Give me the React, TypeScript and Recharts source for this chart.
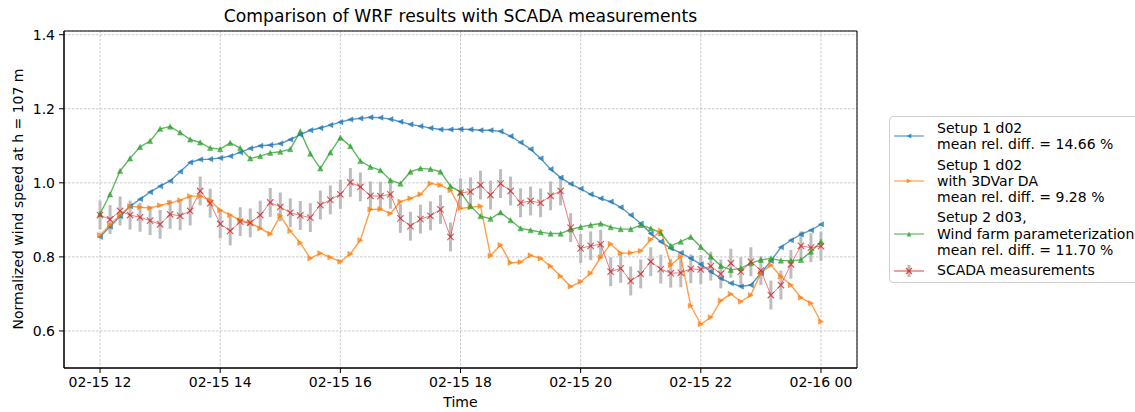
import { LineChart, Line, XAxis, YAxis, CartesianGrid, ErrorBar, ReferenceArea } from 'recharts'

// 10-minute steps from 02-15 12:00 to 02-16 00:00
const SETUP1_D02 = [
  0.854, 0.882, 0.910, 0.937, 0.956, 0.975, 0.991, 1.005, 1.030, 1.055, 1.063, 1.064, 1.067,
  1.072, 1.082, 1.093, 1.100, 1.102, 1.106, 1.117, 1.130, 1.142, 1.148, 1.156, 1.164,
  1.171, 1.174, 1.177, 1.176, 1.172, 1.165, 1.158, 1.153, 1.148, 1.144, 1.144, 1.145,
  1.144, 1.142, 1.142, 1.139, 1.126, 1.109, 1.091, 1.066, 1.037, 1.014, 0.997, 0.984,
  0.969, 0.958, 0.949, 0.934, 0.913, 0.890, 0.863, 0.841, 0.823, 0.811, 0.796, 0.780,
  0.760, 0.742, 0.729, 0.720, 0.724, 0.756, 0.789, 0.826, 0.845, 0.861, 0.872, 0.888,
]
const SETUP1_3DVAR = [
  0.859, 0.886, 0.913, 0.937, 0.934, 0.932, 0.939, 0.946, 0.953, 0.964, 0.964, 0.953, 0.926,
  0.913, 0.899, 0.892, 0.877, 0.862, 0.911, 0.870, 0.838, 0.796, 0.810, 0.799, 0.787,
  0.808, 0.845, 0.928, 0.929, 0.917, 0.949, 0.958, 0.969, 0.998, 0.994, 0.980, 0.931,
  0.934, 0.937, 0.803, 0.832, 0.784, 0.786, 0.804, 0.796, 0.775, 0.748, 0.720, 0.733,
  0.756, 0.799, 0.835, 0.810, 0.811, 0.816, 0.847, 0.871, 0.778, 0.801, 0.668, 0.618,
  0.637, 0.682, 0.700, 0.679, 0.697, 0.756, 0.778, 0.747, 0.724, 0.690, 0.675, 0.625,
]
const SETUP2_D03 = [
  0.916, 0.969, 1.032, 1.066, 1.097, 1.113, 1.146, 1.152, 1.136, 1.117, 1.109, 1.094, 1.091,
  1.108, 1.094, 1.066, 1.072, 1.081, 1.084, 1.091, 1.139, 1.079, 1.039, 1.082, 1.122,
  1.099, 1.059, 1.043, 1.034, 1.007, 0.998, 1.030, 1.039, 1.037, 1.030, 0.991, 0.975,
  0.937, 0.910, 0.903, 0.920, 0.899, 0.877, 0.872, 0.867, 0.863, 0.863, 0.874, 0.881,
  0.886, 0.890, 0.880, 0.875, 0.875, 0.886, 0.877, 0.865, 0.830, 0.841, 0.854, 0.827,
  0.801, 0.776, 0.765, 0.769, 0.783, 0.792, 0.796, 0.790, 0.790, 0.792, 0.814, 0.841,
]
const SCADA = [
  0.913, 0.901, 0.924, 0.913, 0.907, 0.898, 0.888, 0.915, 0.911, 0.924, 0.978, 0.945, 0.889,
  0.870, 0.895, 0.892, 0.913, 0.947, 0.935, 0.919, 0.912, 0.906, 0.940, 0.954, 0.969,
  1.001, 0.989, 0.965, 0.964, 0.969, 0.904, 0.883, 0.902, 0.911, 0.928, 0.854, 0.973,
  0.976, 0.994, 0.967, 0.998, 0.978, 0.946, 0.951, 0.946, 0.965, 0.978, 0.879, 0.823,
  0.830, 0.834, 0.760, 0.769, 0.735, 0.754, 0.787, 0.767, 0.756, 0.757, 0.768, 0.766,
  0.775, 0.754, 0.783, 0.760, 0.787, 0.763, 0.697, 0.724, 0.780, 0.830, 0.825, 0.829,
]
const SCADA_ERR = 0.039

const X_TICKS = [0, 2, 4, 6, 8, 10, 12]
const X_TICK_LABELS = ['02-15 12', '02-15 14', '02-15 16', '02-15 18', '02-15 20', '02-15 22', '02-16 00']
const Y_TICKS = [0.6, 0.8, 1.0, 1.2, 1.4]

const BLUE = '#1f77b4'
const ORANGE = '#ff7f0e'
const GREEN = '#2ca02c'
const RED = '#d62728'
const FONT = '"DejaVu Sans", sans-serif'

const data = SETUP1_D02.map((v, i) => ({
  t: i / 6,
  setup1: v,
  setup1da: SETUP1_3DVAR[i],
  setup2: SETUP2_D03[i],
  scada: SCADA[i],
  err: SCADA_ERR,
}))

function triPath(dir: string, x: number, y: number, s: number) {
  if (dir === 'left') return `M${x - s},${y} L${x + s},${y - s} L${x + s},${y + s} Z`
  if (dir === 'right') return `M${x + s},${y} L${x - s},${y - s} L${x - s},${y + s} Z`
  return `M${x},${y - s} L${x + s},${y + s} L${x - s},${y + s} Z`
}

const triDot = (dir: string, color: string) => (props: any) => {
  const { cx, cy, index } = props
  if (cx == null || cy == null) return <g key={index} />
  return <path key={index} d={triPath(dir, cx, cy, 2.6)} fill={color} fillOpacity={0.75} stroke={color} strokeOpacity={0.75} strokeWidth={0.6} />
}

const xDot = (props: any) => {
  const { cx, cy, index } = props
  if (cx == null || cy == null) return <g key={index} />
  const s = 3.2
  return (
    <path key={index} d={`M${cx - s},${cy - s} L${cx + s},${cy + s} M${cx - s},${cy + s} L${cx + s},${cy - s}`}
      stroke={RED} strokeOpacity={0.75} strokeWidth={1.2} fill="none" />
  )
}

function Handle({ color, dir, scada }: { color: string; dir?: string; scada?: boolean }) {
  return (
    <svg width={32} height={12} style={{ display: 'block' }}>
      {scada && <line x1={16} y1={0} x2={16} y2={12} stroke="#bbbbbb" strokeWidth={3} />}
      <line x1={1} y1={6} x2={31} y2={6} stroke={color} strokeOpacity={0.6} strokeWidth={1.5} />
      {scada
        ? <path d="M13,3 L19,9 M13,9 L19,3" stroke={RED} strokeOpacity={0.8} strokeWidth={1.2} />
        : <path d={triPath(dir || 'up', 16, 6, 2.4)} fill={color} fillOpacity={0.8} />}
    </svg>
  )
}

const LEGEND = [
  { color: BLUE, dir: 'left', lines: ['Setup 1 d02', 'mean rel. diff. = 14.66 %'] },
  { color: ORANGE, dir: 'right', lines: ['Setup 1 d02', 'with 3DVar DA', 'mean rel. diff. = 9.28 %'] },
  { color: GREEN, dir: 'up', lines: ['Setup 2 d03,', 'Wind farm parameterization', 'mean rel. diff. = 11.70 %'] },
  { color: RED, dir: '', scada: true, lines: ['SCADA measurements'] },
]

export default function App() {
  return (
    <div style={{ position: 'absolute', left: 0, top: 0, width: 1135, height: 412, overflow: 'hidden', background: '#fff', fontFamily: FONT, color: '#000' }}>
      <LineChart width={1135} height={412} data={data} margin={{ top: 31, right: 278, bottom: 0, left: 0 }}>
        <CartesianGrid stroke="#b0b0b0" strokeDasharray="2.5 1.5" strokeWidth={0.7} />
        <XAxis
          dataKey="t"
          type="number"
          domain={[-0.6, 12.6]}
          allowDataOverflow
          ticks={X_TICKS}
          tickFormatter={(v: number) => X_TICK_LABELS[X_TICKS.indexOf(v)]}
          height={44}
          tickSize={5}
          tickMargin={4}
          stroke="#000"
          tick={{ fill: '#000', fontSize: 14, fontFamily: FONT }}
        />
        <YAxis
          type="number"
          domain={[0.5, 1.41]}
          allowDataOverflow
          ticks={Y_TICKS}
          tickFormatter={(v: number) => v.toFixed(1)}
          width={64}
          tickSize={5}
          tickMargin={4}
          stroke="#000"
          tick={{ fill: '#000', fontSize: 14, fontFamily: FONT }}
        />
        <Line dataKey="scada" stroke="none" dot={false} isAnimationActive={false}>
          <ErrorBar dataKey="err" width={0} strokeWidth={3} stroke="#bdbdbd" direction="y" />
        </Line>
        <Line dataKey="setup1" stroke={BLUE} strokeOpacity={0.75} strokeWidth={1.4} dot={triDot('left', BLUE)} isAnimationActive={false} />
        <Line dataKey="setup1da" stroke={ORANGE} strokeOpacity={0.75} strokeWidth={1.4} dot={triDot('right', ORANGE)} isAnimationActive={false} />
        <Line dataKey="setup2" stroke={GREEN} strokeOpacity={0.75} strokeWidth={1.4} dot={triDot('up', GREEN)} isAnimationActive={false} />
        <Line dataKey="scada" stroke={RED} strokeOpacity={0.6} strokeWidth={1} dot={xDot} isAnimationActive={false} />
        <ReferenceArea x1={-0.6} x2={12.6} y1={0.5} y2={1.41} fill="none" stroke="#000" strokeWidth={1} ifOverflow="visible" />
      </LineChart>

      <div style={{ position: 'absolute', left: 64, width: 793, top: 6, textAlign: 'center', fontSize: 17.2 }}>
        Comparison of WRF results with SCADA measurements
      </div>
      <div style={{ position: 'absolute', left: 64, width: 793, top: 394, textAlign: 'center', fontSize: 14 }}>
        Time
      </div>
      <div style={{ position: 'absolute', left: 18, top: 199, width: 0, height: 0 }}>
        <div style={{ position: 'absolute', transform: 'translate(-50%, -50%) rotate(-90deg)', whiteSpace: 'nowrap', fontSize: 14 }}>
          Normalized wind speed at h = 107 m
        </div>
      </div>

      <div style={{ position: 'absolute', left: 889, top: 116, width: 260, height: 167, border: '1px solid #d0d0d0', borderRadius: 4, boxSizing: 'border-box', fontSize: 14, lineHeight: '16.3px', paddingTop: 3 }}>
        {LEGEND.map((e, k) => (
          <div key={k} style={{ display: 'flex', alignItems: 'center', marginBottom: 4 }}>
            <div style={{ width: 44, paddingLeft: 3 }}>
              <Handle color={e.color} dir={e.dir} scada={e.scada} />
            </div>
            <div style={{ whiteSpace: 'nowrap' }}>
              {e.lines.map((l, j) => <div key={j}>{l}</div>)}
            </div>
          </div>
        ))}
      </div>
    </div>
  )
}
